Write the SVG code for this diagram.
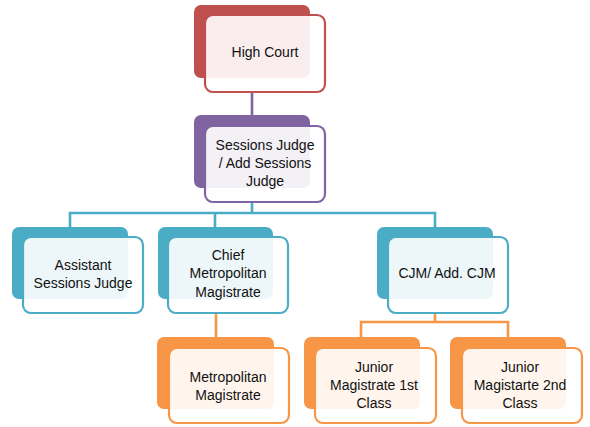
<svg xmlns="http://www.w3.org/2000/svg" width="590" height="427" viewBox="0 0 590 427">
<style>
.front{fill:#ffffff;fill-opacity:0.9;stroke-width:2.2}
.back{stroke:none}
.t{font-family:"Liberation Sans",Arial,sans-serif;font-size:14px;fill:#111111;text-anchor:middle}
.red .back{fill:#C0504D}.red .front{stroke:#C0504D}
.pur .back{fill:#8064A2}.pur .front{stroke:#8064A2}
.teal .back{fill:#4BACC6}.teal .front{stroke:#4BACC6}
.org .back{fill:#F79646}.org .front{stroke:#F79646}
.c{fill:none;stroke-width:2.6}
</style>
<rect width="590" height="427" fill="#ffffff"/>
<g id="connectors">
<path class="c" stroke="#8064A2" d="M252 92V115"/>
<path class="c" stroke="#4BACC6" d="M252 202V213M70 227V213H435V227M215 213V227"/>
<path class="c" stroke="#F79646" d="M216 313V337M435 313V322M361 337V322H508V337"/>
</g>
<g id="high-court" class="red">
<rect class="back" x="194" y="5" width="116" height="73" rx="7"/>
<rect class="front" x="205" y="15" width="120" height="77" rx="8"/>
<text class="t" x="265" y="57">High Court</text>
</g>
<g id="sessions-judge" class="pur">
<rect class="back" x="194" y="115" width="116" height="73" rx="7"/>
<rect class="front" x="205" y="126" width="120" height="76" rx="8"/>
<text class="t" x="265" y="150">Sessions Judge</text>
<text class="t" x="265" y="168">/ Add Sessions</text>
<text class="t" x="265" y="186">Judge</text>
</g>
<g id="assistant-sessions-judge" class="teal">
<rect class="back" x="12" y="227" width="116" height="72" rx="7"/>
<rect class="front" x="23" y="237" width="120" height="76" rx="8"/>
<text class="t" x="83" y="270">Assistant</text>
<text class="t" x="83" y="288">Sessions Judge</text>
</g>
<g id="chief-metropolitan-magistrate" class="teal">
<rect class="back" x="158" y="227" width="115" height="72" rx="7"/>
<rect class="front" x="168" y="237" width="120" height="76" rx="8"/>
<text class="t" x="228" y="260">Chief</text>
<text class="t" x="228" y="278">Metropolitan</text>
<text class="t" x="228" y="297">Magistrate</text>
</g>
<g id="cjm" class="teal">
<rect class="back" x="377" y="227" width="116" height="72" rx="7"/>
<rect class="front" x="388" y="237" width="120" height="76" rx="8"/>
<text class="t" x="447" y="278">CJM/ Add. CJM</text>
</g>
<g id="metropolitan-magistrate" class="org">
<rect class="back" x="157" y="337" width="117" height="72" rx="7"/>
<rect class="front" x="169" y="348" width="120" height="75" rx="8"/>
<text class="t" x="228" y="382">Metropolitan</text>
<text class="t" x="228" y="400">Magistrate</text>
</g>
<g id="junior-1st" class="org">
<rect class="back" x="304" y="337" width="116" height="72" rx="7"/>
<rect class="front" x="315" y="348" width="121" height="75" rx="8"/>
<text class="t" x="374" y="372">Junior</text>
<text class="t" x="374" y="390">Magistrate 1st</text>
<text class="t" x="374" y="408">Class</text>
</g>
<g id="junior-2nd" class="org">
<rect class="back" x="450" y="337" width="116" height="72" rx="7"/>
<rect class="front" x="462" y="348" width="120" height="75" rx="8"/>
<text class="t" x="520" y="372">Junior</text>
<text class="t" x="520" y="390">Magistarte 2nd</text>
<text class="t" x="520" y="408">Class</text>
</g>
</svg>
